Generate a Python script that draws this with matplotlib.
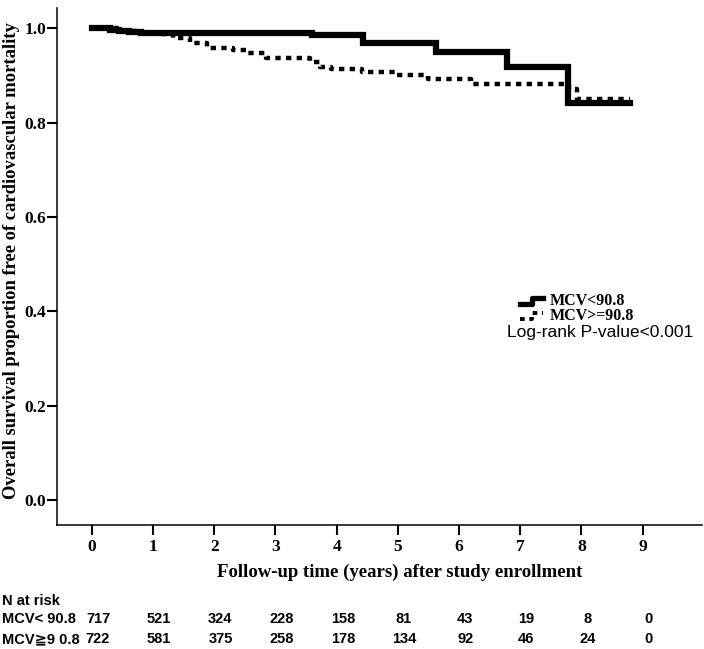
import matplotlib
matplotlib.use("Agg")
import matplotlib.pyplot as plt
from matplotlib.lines import Line2D

# Kaplan-Meier steps
times_lt = [0, 0.3, 0.45, 0.6, 0.8, 3.6, 4.43, 5.63, 6.78, 7.78, 8.8]
surv_lt = [1.0, 0.997, 0.994, 0.992, 0.990, 0.986, 0.968, 0.950, 0.917, 0.841, 0.841]

times_ge = [0, 0.5, 0.75, 1.1, 1.33, 1.6, 1.88, 2.3, 2.53, 2.85, 3.56, 3.72,
            3.9, 4.41, 4.95, 5.49, 6.2, 7.8, 7.93, 8.8]
surv_ge = [1.0, 0.995, 0.991, 0.988, 0.979, 0.969, 0.958, 0.954, 0.947, 0.937,
           0.929, 0.918, 0.913, 0.908, 0.901, 0.892, 0.881, 0.871, 0.850, 0.850]

# numbers at risk
risk_years = [0, 1, 2, 3, 4, 5, 6, 7, 8, 9]
risk_lt = [717, 521, 324, 228, 158, 81, 43, 19, 8, 0]
risk_ge = [722, 581, 375, 258, 178, 134, 92, 46, 24, 0]
risk_labels = ["MCV< 90.8", "MCV\u22679 0.8"]

W, H = 704, 649
fig = plt.figure(figsize=(W / 100, H / 100), dpi=100)
ax = fig.add_axes([57 / W, 1 - 525 / H, (702 - 57) / W, (525 - 8) / H])

serif_b = dict(family="Liberation Serif", weight="bold")

ax.plot(times_lt, surv_lt, drawstyle="steps-post", color="black", lw=4.5,
        solid_joinstyle="miter")
ax.plot(times_ge, surv_ge, drawstyle="steps-post", color="black", lw=3.2,
        linestyle=(0, (1.2, 1.2)), dash_capstyle="butt")

ax.set_xlim(-0.57, 9.97)
ax.set_ylim(-0.053, 1.043)
ax.set_xticks(range(10))
ax.set_yticks([0.0, 0.2, 0.4, 0.6, 0.8, 1.0])
ax.set_yticklabels(["0.0", "0.2", "0.4", "0.6", "0.8", "1.0"])
for s in ["top", "right"]:
    ax.spines[s].set_visible(False)
for s in ["left", "bottom"]:
    ax.spines[s].set_linewidth(1.1)
ax.tick_params(axis="x", length=7, width=1.5, pad=3)
ax.tick_params(axis="y", length=7, width=1.5, pad=1)
for lab in ax.get_xticklabels() + ax.get_yticklabels():
    lab.set_fontfamily("Liberation Serif")
    lab.set_fontweight("bold")
    lab.set_fontsize(12.5)

ax.set_ylabel("Overall survival proportion free of cardiovascular mortality",
              fontsize=13.4, **serif_b)
ax.yaxis.set_label_coords((20 - 57) / 645, (525 - 261) / 517)
fig.text(400 / W, 1 - 572 / H, "Follow-up time (years) after study enrollment",
         ha="center", va="center", fontsize=13.5, **serif_b)

# legend drawn by hand (step-shaped keys)
def px(x, y):
    return x / W, 1 - y / H

xs = [520, 532, 532, 543]
key1 = [304, 304, 298, 298]
key2 = [319, 319, 313, 313]
fig.add_artist(Line2D([px(x, 0)[0] for x in xs], [px(0, y)[1] for y in key1],
                      color="black", lw=3.8))
fig.add_artist(Line2D([px(x, 0)[0] for x in xs], [px(0, y)[1] for y in key2],
                      color="black", lw=2.8, linestyle=(0, (1.2, 1.2))))
fig.text(*px(550, 301), "MCV<90.8", ha="left", va="center", fontsize=11.5, **serif_b)
fig.text(*px(550, 316), "MCV>=90.8", ha="left", va="center", fontsize=11.5, **serif_b)
fig.text(*px(507, 332), "Log-rank P-value<0.001", ha="left", va="center",
         fontsize=12.5, family="Liberation Sans")

# risk table
sans_b = dict(family=["Liberation Sans", "DejaVu Sans"], weight="bold", fontsize=10.5)
fig.text(*px(2, 601), "N at risk", ha="left", va="center", **sans_b)
for row_y, lab, vals in [(619, risk_labels[0], risk_lt), (639, risk_labels[1], risk_ge)]:
    fig.text(*px(2, row_y), lab, ha="left", va="center", **sans_b)
    yfig = 1 - row_y / H
    for t, v in zip(risk_years, vals):
        xfig = fig.transFigure.inverted().transform(
            ax.transData.transform((t + 0.1, 0)))[0]
        fig.text(xfig, yfig, str(v), ha="center", va="center", **sans_b)

fig.savefig("out.png", dpi=100)
